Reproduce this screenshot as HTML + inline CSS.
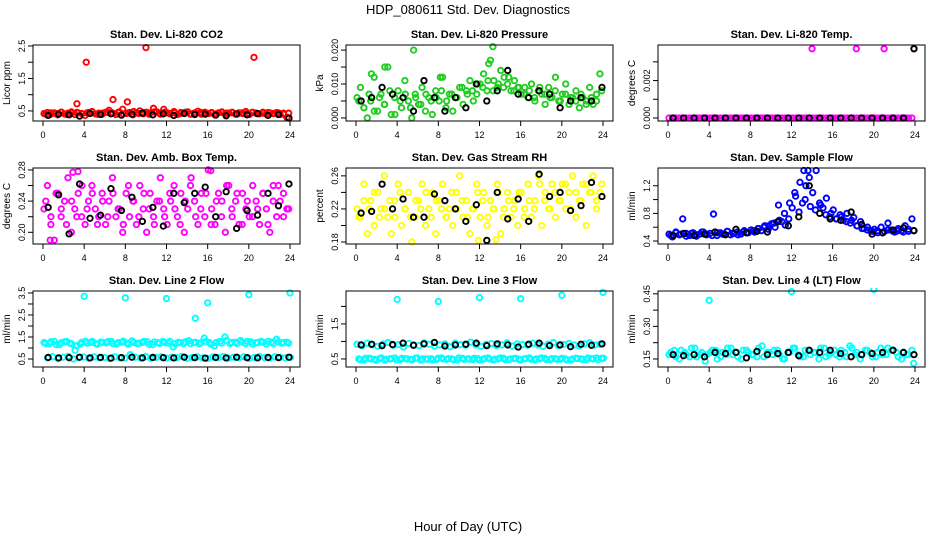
<!DOCTYPE html>
<html><head><meta charset="utf-8"><style>
html,body{margin:0;padding:0;background:#fff;}
svg{display:block;font-family:"Liberation Sans",Arial,sans-serif;}
</style></head><body>
<svg id="chart" width="936" height="540" viewBox="0 0 936 540" xmlns="http://www.w3.org/2000/svg">
<text x="468" y="14" text-anchor="middle" font-size="13">HDP_080611  Std. Dev. Diagnostics</text>
<text x="468" y="531" text-anchor="middle" font-size="13">Hour of Day (UTC)</text>
</svg>
<script>
// ---- data arrays ----
const xTicks = [0,4,8,12,16,20,24];
const titles = ["Stan. Dev. Li-820 CO2","Stan. Dev. Li-820 Pressure","Stan. Dev. Li-820 Temp.","Stan. Dev. Amb. Box Temp.","Stan. Dev. Gas Stream RH","Stan. Dev. Sample Flow","Stan. Dev. Line 2 Flow","Stan. Dev. Line 3 Flow","Stan. Dev. Line 4 (LT) Flow"];
const yLabels = ["Licor ppm","kPa","degrees C","degrees C","percent","ml/min","ml/min","ml/min","ml/min"];
const colors = ["#ff0000","#22cc22","#ff00ff","#ff00ff","#ffff00","#0000ff","#00ffff","#00ffff","#00ffff"];
const yLims = [[0.19,2.53],[-0.0009,0.0215],[-0.00016,0.0039],[0.185,0.2825],[0.1776,0.2695],[0.357,1.457],[0.136,3.59],[0.27,2.44],[0.113,0.463]];
const yTicks = [[0.5,1,1.5,2,2.5],[0,0.005,0.01,0.015,0.02],[0,0.001,0.002,0.003],[0.2,0.22,0.24,0.26,0.28],[0.18,0.2,0.22,0.24,0.26],[0.4,0.6,0.8,1.0,1.2],[0.5,1,1.5,2,2.5,3,3.5],[0.5,1,1.5,2],[0.15,0.225,0.3,0.375,0.45]];
const yTickLabels = [["0.5","","1.5","","2.5"],["0.000","","0.010","","0.020"],["0.000","","0.002",""],["0.20","","0.24","","0.28"],["0.18","","0.22","","0.26"],["0.4","","0.8","","1.2"],["0.5","","1.5","","2.5","","3.5"],["0.5","","1.5",""],["0.15","","0.30","","0.45"]];

const co2 = [0.42,0.45,0.40,0.44,0.38,0.46,0.41,0.43,0.47,0.39,0.44,0.42,0.36,0.45,0.48,0.41,0.43,0.40,0.46,0.52,0.44,0.39,0.47,0.55,0.42,0.45,0.38,0.44,0.50,0.41,0.46,0.43,0.58,0.47,0.40,0.55,0.44,0.42,0.48,0.39,0.45,0.43,0.47,0.41,0.44,0.49,0.40,0.46,0.42,0.45,0.38,0.44,0.47,0.41,0.43,0.46,0.40,0.44,0.42,0.48,0.39,0.45,0.43,0.41,0.46,0.40,0.44,0.42,0.45,0.39,0.43,0.30];
const co2B = [0.40,0.44,0.42,0.46,0.39,0.43,0.45,0.41,0.44,0.47,0.40,0.43,0.46,0.42,0.45,0.41,0.44,0.48,0.42,0.45,0.40,0.47,0.43,0.46,0.41,0.44,0.42,0.46,0.40,0.43,0.45,0.42,0.44,0.41,0.46,0.43,0.45,0.40,0.44,0.42,0.46,0.41,0.43,0.45,0.42,0.44,0.40,0.43];
const co2Black = [0.36,0.40,0.38,0.34,0.42,0.39,0.41,0.37,0.40,0.43,0.38,0.41,0.36,0.42,0.39,0.40,0.37,0.35,0.41,0.38,0.42,0.36,0.39,0.28];
const co2OutX = [3.3,4.2,6.8,8.2,10.0,20.5];
const co2OutY = [0.72,2.0,0.85,0.78,2.45,2.15];

const pres = [0.006,0.009,0.003,0.000,0.005,0.012,0.002,0.007,0.004,0.015,0.001,0.006,0.008,0.003,0.011,0.005,0.000,0.007,0.004,0.009,0.002,0.006,0.001,0.008,0.005,0.012,0.003,0.007,0.002,0.006,0.009,0.004,0.008,0.011,0.005,0.007,0.010,0.013,0.008,0.017,0.011,0.009,0.014,0.012,0.010,0.008,0.011,0.009,0.007,0.009,0.006,0.010,0.005,0.008,0.007,0.004,0.009,0.006,0.012,0.005,0.007,0.010,0.004,0.006,0.008,0.003,0.006,0.005,0.009,0.004,0.007,0.013];
const presB = [0.005,0.003,0.007,0.002,0.006,0.004,0.008,0.001,0.005,0.007,0.003,0.006,0.004,0.007,0.005,0.006,0.008,0.005,0.007,0.006,0.009,0.007,0.008,0.010,0.009,0.011,0.008,0.010,0.009,0.012,0.008,0.009,0.007,0.008,0.006,0.009,0.007,0.006,0.008,0.005,0.007,0.006,0.005,0.007,0.004,0.006,0.005,0.008];
const presBlack = [0.005,0.006,0.009,0.007,0.006,0.002,0.011,0.006,0.002,0.006,0.003,0.010,0.005,0.008,0.014,0.007,0.006,0.008,0.007,0.003,0.005,0.006,0.005,0.009];
const presOutX = [2.8,5.6,13.3,12.9,8.2,1.5];
const presOutY = [0.015,0.020,0.021,0.016,0.012,0.013];

const ltemp = [0,0,0,0,0,0,0,0,0,0,0,0,0,0,0,0,0,0,0,0,0,0,0,0,0,0,0,0,0,0,0,0,0,0,0,0,0,0,0,0,0,0,0,0,0,0,0,0,0,0,0,0,0,0,0,0,0,0,0,0,0,0,0,0,0,0,0,0,0,0,0,0];
const ltempBlack = [0,0,0,0,0,0,0,0,0,0,0,0,0,0,0,0,0,0,0,0,0,0,0,0.0037];
const ltempOutX = [14,18.3,21,23.9];
const ltempOutY = [0.0037,0.0037,0.0037,0.0037];

const abox = [0.23,0.26,0.21,0.19,0.25,0.22,0.24,0.27,0.20,0.23,0.25,0.22,0.21,0.24,0.26,0.23,0.22,0.25,0.21,0.24,0.27,0.22,0.23,0.20,0.25,0.22,0.24,0.21,0.26,0.23,0.20,0.25,0.22,0.24,0.27,0.23,0.21,0.24,0.26,0.22,0.25,0.20,0.23,0.27,0.24,0.21,0.25,0.22,0.28,0.23,0.21,0.25,0.24,0.20,0.26,0.22,0.24,0.21,0.25,0.23,0.22,0.26,0.24,0.21,0.25,0.23,0.20,0.26,0.22,0.24,0.25,0.23];
const aboxB = [0.24,0.22,0.25,0.23,0.21,0.24,0.22,0.26,0.23,0.25,0.21,0.24,0.22,0.25,0.23,0.21,0.26,0.24,0.22,0.25,0.23,0.21,0.24,0.22,0.25,0.23,0.21,0.24,0.26,0.22,0.23,0.25,0.21,0.24,0.22,0.26,0.23,0.25,0.21,0.24,0.22,0.23,0.25,0.21,0.24,0.26,0.22,0.23];
const aboxBlack = [0.232,0.248,0.198,0.262,0.218,0.222,0.256,0.228,0.245,0.214,0.232,0.208,0.25,0.238,0.25,0.258,0.22,0.252,0.205,0.228,0.222,0.25,0.234,0.262];
const aboxOutX = [0.7,2.9,3.4,16.3];
const aboxOutY = [0.19,0.277,0.278,0.279];

const rh = [0.22,0.21,0.25,0.19,0.23,0.20,0.24,0.22,0.26,0.21,0.19,0.23,0.25,0.20,0.22,0.24,0.18,0.21,0.23,0.25,0.20,0.22,0.24,0.19,0.23,0.25,0.21,0.22,0.20,0.24,0.26,0.21,0.23,0.19,0.22,0.25,0.21,0.24,0.20,0.23,0.22,0.25,0.19,0.22,0.24,0.21,0.23,0.20,0.24,0.22,0.25,0.21,0.23,0.26,0.20,0.24,0.22,0.25,0.21,0.23,0.25,0.22,0.24,0.26,0.21,0.23,0.25,0.20,0.24,0.26,0.22,0.24];
const rhB = [0.21,0.23,0.22,0.24,0.21,0.22,0.23,0.21,0.24,0.22,0.21,0.23,0.22,0.24,0.21,0.23,0.22,0.21,0.24,0.22,0.23,0.21,0.22,0.24,0.23,0.21,0.22,0.24,0.21,0.23,0.22,0.24,0.21,0.23,0.22,0.25,0.23,0.22,0.24,0.23,0.25,0.22,0.24,0.23,0.25,0.24,0.23,0.25];
const rhBlack = [0.215,0.217,0.25,0.22,0.232,0.21,0.21,0.238,0.23,0.22,0.205,0.225,0.182,0.24,0.208,0.232,0.205,0.262,0.235,0.24,0.218,0.224,0.252,0.235];
const rhOutX = [11.9,13.6];
const rhOutY = [0.182,0.183];

const flow = [0.50,0.46,0.53,0.49,0.72,0.51,0.48,0.52,0.47,0.50,0.53,0.49,0.51,0.79,0.48,0.52,0.50,0.54,0.49,0.51,0.53,0.50,0.55,0.52,0.56,0.53,0.58,0.55,0.62,0.57,0.65,0.60,0.92,0.68,0.63,0.72,0.88,1.05,0.82,0.95,1.20,1.32,1.10,1.42,0.95,0.88,1.02,0.75,0.85,0.72,0.78,0.70,0.80,0.66,0.74,0.62,0.68,0.58,0.60,0.55,0.57,0.52,0.60,0.54,0.66,0.56,0.53,0.58,0.55,0.62,0.54,0.72];
const flowB = [0.48,0.52,0.5,0.47,0.51,0.49,0.53,0.5,0.48,0.52,0.5,0.54,0.51,0.49,0.53,0.52,0.55,0.58,0.6,0.62,0.66,0.7,0.8,0.95,1.1,1.25,1.0,0.9,0.85,0.92,0.78,0.8,0.72,0.75,0.68,0.7,0.62,0.58,0.56,0.54,0.55,0.52,0.56,0.54,0.55,0.53,0.57,0.55];
const flowBlack = [0.48,0.51,0.48,0.50,0.53,0.49,0.57,0.52,0.54,0.53,0.68,0.62,0.75,1.2,0.8,0.72,0.70,0.82,0.64,0.50,0.52,0.56,0.59,0.55];
const flowOutX = [13.2,13.6];
const flowOutY = [1.42,1.42];

const l2Hi = [1.25,1.2,1.3,1.15,1.28,1.22,0.9,1.18,1.3,1.25,1.2,1.27,1.23,1.3,1.18,1.26,1.22,1.32,1.2,1.25,1.28,1.15,1.24,1.3,1.22,1.05,1.26,1.2,1.33,1.25,1.19,1.45,1.24,1.1,1.3,1.5,1.2,1.26,1.34,1.2,1.28,1.24,1.3,1.18,1.27,1.4,1.22,1.26];
const l2Hi2 = [1.2,1.28,1.15,1.24,1.3,1.18,1.1,1.26,1.22,1.3,1.17,1.25,1.29,1.2,1.24,1.31,1.18,1.25,1.22,1.3,1.16,1.27,1.21,1.25,1.3,1.19,1.24,1.28,1.2,1.26,1.23,1.3,1.17,1.25,1.22,1.35,1.25,1.2,1.27,1.3,1.18,1.24,1.26,1.3,1.2,1.28,1.25,1.22];
const l2Lo = [0.55,0.6,0.52,0.58,0.62,0.5,0.56,0.59,0.53,0.6,0.55,0.57,0.52,0.6,0.56,0.54,0.7,0.58,0.55,0.61,0.53,0.57,0.6,0.54,0.58,0.56,0.62,0.53,0.57,0.6,0.55,0.52,0.59,0.56,0.61,0.54,0.58,0.55,0.6,0.53,0.57,0.62,0.56,0.54,0.6,0.58,0.55,0.57];
const l2Black = [0.57,0.55,0.56,0.58,0.55,0.57,0.54,0.56,0.58,0.55,0.57,0.56,0.55,0.58,0.56,0.54,0.57,0.55,0.58,0.56,0.55,0.57,0.56,0.58];
const l2OutX = [4,8,12,14.8,16,20,24];
const l2OutY = [3.35,3.28,3.25,2.35,3.05,3.42,3.5];

const l3Hi = [0.92,0.88,0.95,0.9,0.86,0.93,0.97,0.89,0.91,0.84,0.94,0.9,0.88,0.96,0.92,0.87,0.9,0.93,0.85,0.95,0.91,0.89,0.98,0.9,0.86,0.92,0.94,0.88,0.9,0.96,0.87,0.93,0.91,0.89,0.95,0.9,0.86,0.92,0.97,0.88,0.91,0.94,0.9,0.87,0.93,0.96,0.9,0.92];
const l3Lo = [0.5,0.47,0.52,0.49,0.51,0.46,0.5,0.53,0.48,0.51,0.49,0.52,0.47,0.5,0.51,0.48,0.53,0.49,0.5,0.47,0.52,0.5,0.48,0.51,0.49,0.53,0.47,0.5,0.52,0.48,0.51,0.49,0.5,0.53,0.47,0.5,0.52,0.48,0.51,0.49,0.5,0.47,0.52,0.5,0.48,0.51,0.53,0.52];
const l3Lo2 = [0.48,0.52,0.5,0.46,0.53,0.49,0.51,0.47,0.52,0.5,0.48,0.53,0.5,0.49,0.47,0.52,0.5,0.51,0.48,0.53,0.49,0.5,0.52,0.47,0.51,0.5,0.49,0.53,0.48,0.5,0.52,0.47,0.51,0.49,0.5,0.53,0.48,0.51,0.49,0.52,0.47,0.5,0.51,0.49,0.53,0.5,0.48,0.52];
const l3Black = [0.9,0.92,0.88,0.91,0.95,0.89,0.93,0.97,0.87,0.9,0.92,0.95,0.88,0.93,0.9,0.84,0.92,0.95,0.88,0.9,0.85,0.92,0.89,0.93];
const l3OutX = [4,8,12,16,20,24];
const l3OutY = [2.2,2.14,2.25,2.22,2.32,2.4];

const l4 = [0.17,0.19,0.15,0.18,0.16,0.2,0.17,0.14,0.18,0.19,0.16,0.17,0.2,0.18,0.15,0.19,0.17,0.16,0.21,0.18,0.17,0.19,0.15,0.18,0.2,0.17,0.16,0.19,0.18,0.15,0.2,0.17,0.19,0.16,0.18,0.21,0.17,0.15,0.19,0.18,0.16,0.2,0.17,0.19,0.18,0.15,0.17,0.19];
const l4B = [0.18,0.16,0.19,0.17,0.2,0.16,0.18,0.17,0.19,0.15,0.18,0.2,0.17,0.16,0.19,0.18,0.17,0.2,0.16,0.18,0.19,0.17,0.15,0.18,0.2,0.16,0.19,0.17,0.18,0.2,0.16,0.18,0.17,0.19,0.16,0.2,0.18,0.17,0.19,0.16,0.18,0.17,0.2,0.19,0.16,0.18,0.17,0.13];
const l4Black = [0.17,0.165,0.17,0.16,0.18,0.175,0.18,0.155,0.185,0.17,0.175,0.18,0.165,0.19,0.18,0.19,0.175,0.16,0.17,0.175,0.18,0.19,0.18,0.17];
const l4OutX = [4,12,20];
const l4OutY = [0.42,0.46,0.47];

const colorSeries = [[co2,co2B],[pres,presB],[ltemp],[abox,aboxB],[rh,rhB],[flow,flowB],[l2Hi,l2Hi2,l2Lo],[l3Hi,l3Lo,l3Lo2],[l4,l4B]];
const blackSeries = [co2Black,presBlack,ltempBlack,aboxBlack,rhBlack,flowBlack,l2Black,l3Black,l4Black];
const outX = [co2OutX,presOutX,ltempOutX,aboxOutX,rhOutX,flowOutX,l2OutX,l3OutX,l4OutX];
const outY = [co2OutY,presOutY,ltempOutY,aboxOutY,rhOutY,flowOutY,l2OutY,l3OutY,l4OutY];

// ---- drawing ----
const NS = "http://www.w3.org/2000/svg";
const svg = document.getElementById("chart");
const colLeft = [33,346,658], boxW = 267, rowTop = [45,168,291], boxH = 76;
function mk(tag, attrs, parent){
  const e = document.createElementNS(NS, tag);
  for (const k in attrs) e.setAttribute(k, attrs[k]);
  (parent || svg).appendChild(e);
  return e;
}
for (let p = 0; p < 9; p++) {
  const L = colLeft[p % 3], T = rowTop[Math.floor(p / 3)];
  const g = mk("g", {});
  
  
  const xs = v => L + 10 + (v / 24) * (boxW - 20);
  const lim = yLims[p];
  const ys = v => T + boxH - (v - lim[0]) / (lim[1] - lim[0]) * boxH;
  const t = mk("text", {x: L + boxW / 2, y: T - 7, "text-anchor": "middle", "font-size": 11, "font-weight": "bold"}, g);
  t.textContent = titles[p];
  
  
  const yl = mk("text", {x: 0, y: 0, "text-anchor": "middle", "font-size": 10, transform: `translate(${L - 23},${T + boxH / 2}) rotate(-90)`}, g);
  yl.textContent = yLabels[p];
  
  
  const xa = mk("g", {}, g);
  
  
  mk("line", {x1: xs(xTicks[0]), x2: xs(xTicks[xTicks.length - 1]), y1: T + boxH, y2: T + boxH, stroke: "#000"}, xa);
  xTicks.forEach(v => {
    mk("line", {x1: xs(v), x2: xs(v), y1: T + boxH, y2: T + boxH + 5, stroke: "#000"}, xa);
    const tl = mk("text", {x: xs(v), y: T + boxH + 17, "text-anchor": "middle", "font-size": 9}, xa);
    tl.textContent = v;
    
    
  });
  const ya = mk("g", {}, g);
  
  
  yTicks[p].forEach((v, i) => {
    mk("line", {x1: L - 5, x2: L, y1: ys(v), y2: ys(v), stroke: "#000"}, ya);
    if (yTickLabels[p][i]) {
      const tl = mk("text", {x: 0, y: 0, "text-anchor": "middle", "font-size": 9, transform: `translate(${L - 8},${ys(v)}) rotate(-90)`}, ya);
      tl.textContent = yTickLabels[p][i];
      
      
    }
  });
  const clip = "clip" + p;
  const cp = mk("clipPath", {id: clip}, g);
  mk("rect", {x: L, y: T - 3, width: boxW, height: boxH + 6}, cp);
  const pts = mk("g", {"clip-path": `url(#${clip})`, fill: "none", "stroke-width": 1.9}, g);
  const pt = (x, y, c, name) => {
    const e = mk("circle", {cx: xs(x), cy: ys(y), r: 2.7, stroke: c}, pts);
    
    
  };
  colorSeries[p].forEach((arr, k) => {
    const n = arr.length;
    arr.forEach((v, i) => pt(0.1 + k * 0.17 + i * (23.6 / (n - 1)), v, colors[p], 'data-point'));
  });
  outX[p].forEach((x, i) => pt(x, outY[p][i], colors[p], 'outlier-point'));
  const bk = blackSeries[p];
  bk.forEach((v, i) => pt(0.5 + i * (23.4 / (bk.length - 1)), v, "#000", 'black-point'));
  const box = mk("rect", {x: L, y: T, width: boxW, height: boxH, fill: "none", stroke: "#000"}, g);
  
  
}
</script>
</body></html>
